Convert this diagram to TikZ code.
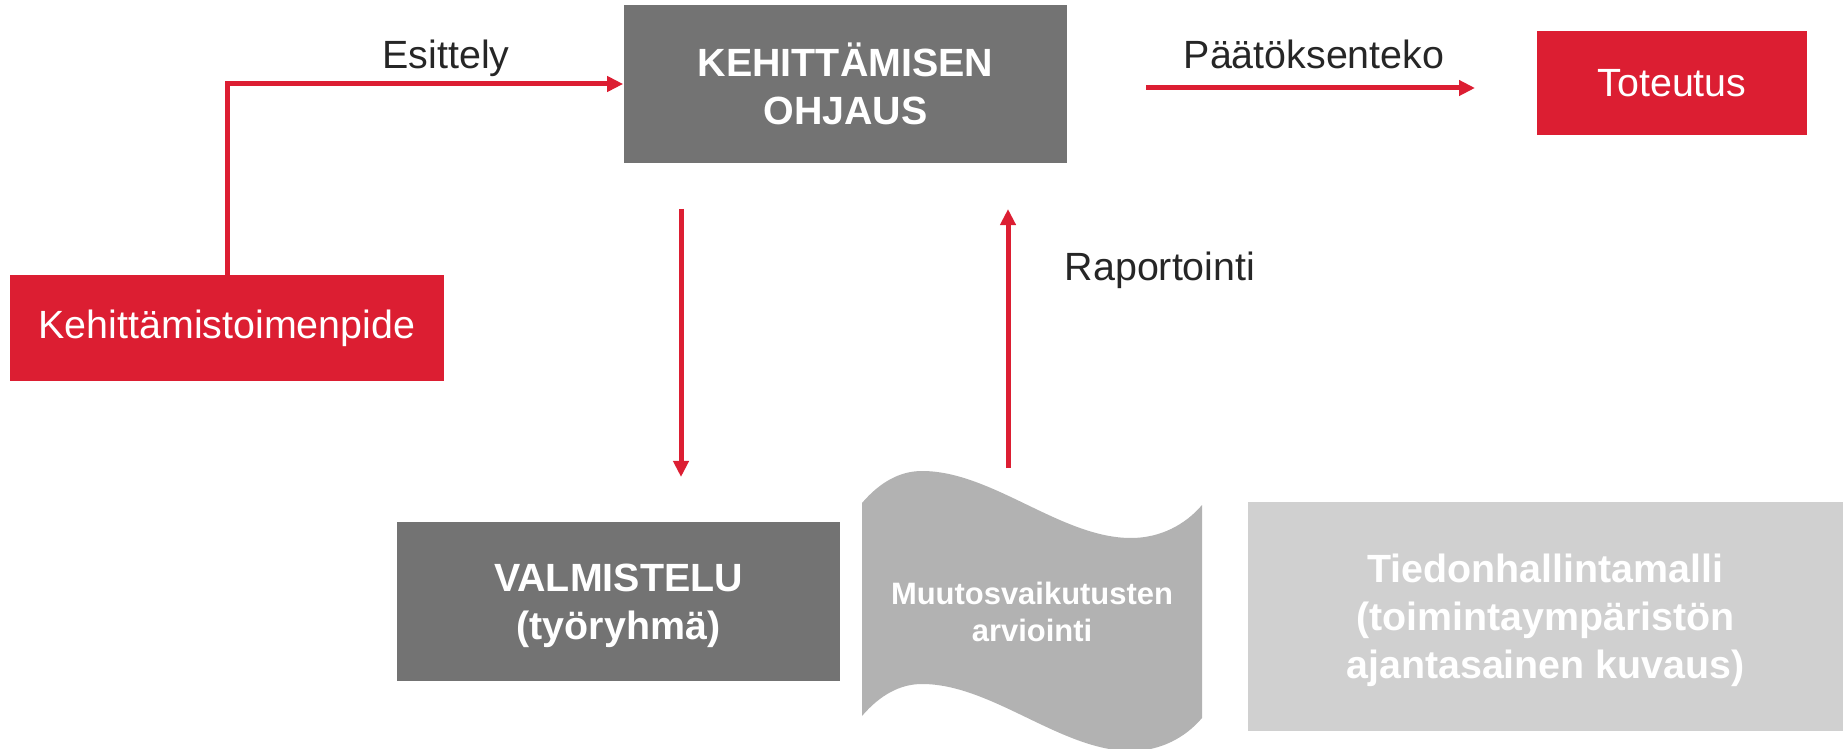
\documentclass[tikz,border=0pt]{standalone}
\usepackage{fontspec}
\setmainfont{Liberation Sans}
\usetikzlibrary{arrows.meta}

\definecolor{ekred}{RGB}{220,30,50}
\definecolor{ekdark}{RGB}{115,115,115}
\definecolor{ekwave}{RGB}{178,178,178}
\definecolor{eklight}{RGB}{208,208,208}
\definecolor{ektext}{RGB}{38,38,38}

\begin{document}
\begin{tikzpicture}[x=0.01cm,y=-0.01cm,
                    >={Triangle[length=1.6mm,width=1.5mm]},   % arrow tip
                    font=\fontsize{11.2}{13.7}\selectfont,
                    box/.style={inner sep=0pt,align=center,text=white},
                    redbox/.style={box,fill=ekred},
                    greybox/.style={box,font=\fontsize{11.2}{13.7}\selectfont\bfseries},
                    flow/.style={ekred,line width=0.05cm},
                    lbl/.style={text=ektext,anchor=base}]

\useasboundingbox (0,0) rectangle (1843,749);

%%%% top row
\node[redbox,minimum width=4.34cm,minimum height=1.05cm] (toimenpide) at (227,328) {Kehittämistoimenpide};
\node[greybox,fill=ekdark,minimum width=4.43cm,minimum height=1.58cm] (ohjaus) at (845.5,84) {KEHITTÄMISEN\\OHJAUS};
\node[redbox,minimum width=2.70cm,minimum height=1.04cm] (toteutus) at (1672,83) {Toteutus};

%%%% bottom row
\node[greybox,fill=ekdark,text depth=0pt,minimum width=4.43cm,minimum height=1.59cm] (valmistelu) at (618.5,601.5) {VALMISTELU\\(työryhmä)};

% punched tape
\fill[ekwave] (862,503) .. controls (880,482) and (900,471) .. (922,471)
   .. controls (992,471) and (1061,538) .. (1131,538)
   .. controls (1160,538) and (1185,525) .. (1202,505)
   -- (1202,718) .. controls (1185,738) and (1160,751) .. (1131,751)
   .. controls (1061,751) and (992,684) .. (922,684)
   .. controls (900,684) and (880,695) .. (862,716) -- cycle;
\node[box,font=\fontsize{8.8}{10.5}\selectfont\bfseries] (muutos) at (1032,612) {Muutosvaikutusten\\arviointi};

\node[greybox,fill=eklight,text depth=0pt,minimum width=5.95cm,minimum height=2.29cm] (tiedon) at (1545.5,616.5) {Tiedonhallintamalli\\(toimintaympäristön\\ajantasainen kuvaus)};

%% ARROWS
\coordinate (paat-a) at (1146,88);
\coordinate (paat-b) at (1475,88);
\coordinate (alas-a) at (681,209);
\coordinate (alas-b) at (681,477);
\coordinate (ylos-a) at (1008,468);
\coordinate (ylos-b) at (1008,209);

\draw[flow,->] (toimenpide.north) |- (ohjaus.west);
\draw[flow,->] (paat-a) -- (paat-b);
\draw[flow,->] (alas-a) -- (alas-b);
\draw[flow,->] (ylos-a) -- (ylos-b);

\node[lbl] (esittely) at (446,69) {Esittely};
\node[lbl] (paatos) at (1314,69) {Päätöksenteko};
\node[lbl] (raportointi) at (1160,281) {Raportointi};

\end{tikzpicture}
\end{document}
